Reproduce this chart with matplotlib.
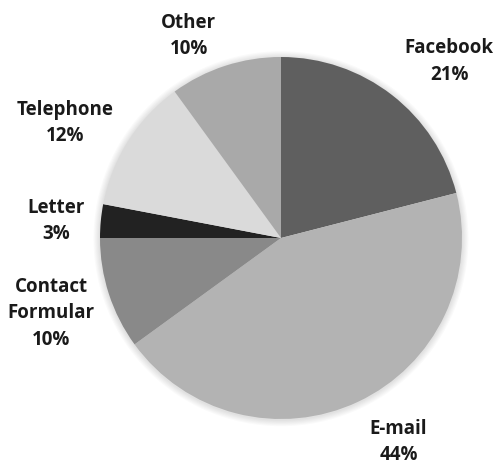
import matplotlib
matplotlib.use("Agg")
import matplotlib.pyplot as plt
from matplotlib.patches import Circle

categories = ["Facebook", "E-mail", "Contact\nFormular", "Letter", "Telephone", "Other"]
values = [21, 44, 10, 3, 12, 10]
colors = ["#5f5f5f", "#b3b3b3", "#898989", "#222222", "#dadada", "#a9a9a9"]
# label positions in data units (pie radius = 1)
label_pos = [(0.93, 0.98), (0.65, -1.12), (-1.27, -0.41), (-1.24, 0.10), (-1.195, 0.64), (-0.51, 1.12)]

W, H = 495, 464
fig = plt.figure(figsize=(W / 100, H / 100), dpi=100)
cx, cy, r = 281, 464 - 239, 181
ax = fig.add_axes([(cx - r) / W, (cy - r) / H, 2 * r / W, 2 * r / H])

# soft shadow around the pie
for k in range(6):
    ax.add_patch(Circle((0, -0.004), 1.0 + 0.006 * (k + 1), color="#000000",
                        alpha=0.02, lw=0, zorder=0, clip_on=False))

ax.pie(values, colors=colors, startangle=90, counterclock=False, radius=1,
       wedgeprops=dict(linewidth=0, zorder=2))
ax.set_xlim(-1, 1)
ax.set_ylim(-1, 1)
ax.set_aspect("equal")
ax.axis("off")

for cat, v, (x, y) in zip(categories, values, label_pos):
    ax.text(x, y, f"{cat}\n{v}%", ha="center", va="center", fontsize=13.5,
            fontweight="bold", family="Open Sans", color="#1a1a1a",
            linespacing=1.42, clip_on=False)

fig.savefig("out.png", dpi=100)
